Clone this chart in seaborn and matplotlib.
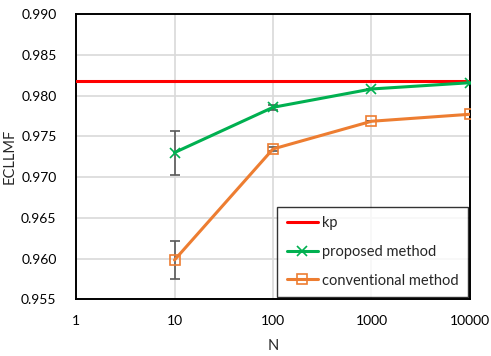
import pandas as pd
import matplotlib
matplotlib.use("Agg")
import matplotlib.pyplot as plt
import seaborn as sns

# values
n_values = [10, 100, 1000, 10000]
kp_x = [1, 10000]
kp_value = [0.9818, 0.9818]
proposed = [0.9730, 0.97855, 0.9808, 0.98157]
proposed_err = [0.0027, 0.0003, 0.0, 0.0]
conventional = [0.95982, 0.97344, 0.97684, 0.9777]
conventional_err = [0.00227, 0.0002, 0.0, 0.0]

sns.set_style("whitegrid")
plt.rcParams['font.family'] = ['Lato', 'DejaVu Sans']

fig = plt.figure(figsize=(4.91, 3.56), dpi=100)
ax = fig.add_axes([0.1548, 0.1593, 0.8024, 0.8014])

df_kp = pd.DataFrame({'N': kp_x, 'ECLLMF': kp_value})
df_prop = pd.DataFrame({'N': n_values, 'ECLLMF': proposed})
df_conv = pd.DataFrame({'N': n_values, 'ECLLMF': conventional})

# error bars
ax.errorbar(n_values, proposed, yerr=proposed_err, fmt='none', ecolor='#595959',
            elinewidth=1.2, capsize=3.5, capthick=1.2, zorder=2)
ax.errorbar(n_values, conventional, yerr=conventional_err, fmt='none', ecolor='#595959',
            elinewidth=1.2, capsize=3.5, capthick=1.2, zorder=2)

sns.lineplot(data=df_kp, x='N', y='ECLLMF', ax=ax, color='#FF0000', linewidth=2.2,
             label='kp', zorder=3)
sns.lineplot(data=df_prop, x='N', y='ECLLMF', ax=ax, color='#00B050', linewidth=2.2,
             marker='x', markersize=6.5, markeredgewidth=1.2, markeredgecolor='#00B050',
             label='proposed method', zorder=4)
sns.lineplot(data=df_conv, x='N', y='ECLLMF', ax=ax, color='#ED7D31', linewidth=2.2,
             marker='s', markersize=6.5, markerfacecolor='none', markeredgewidth=1.2,
             markeredgecolor='#ED7D31', label='conventional method', zorder=4)

ax.set_xscale('log')
ax.set_xlim(1, 10000)
ax.set_ylim(0.955, 0.990)
ax.set_xticks([1, 10, 100, 1000, 10000])
ax.set_xticklabels(['1', '10', '100', '1000', '10000'])
ax.set_yticks([0.955, 0.960, 0.965, 0.970, 0.975, 0.980, 0.985, 0.990])
ax.set_yticklabels(['0.955', '0.960', '0.965', '0.970', '0.975', '0.980', '0.985', '0.990'])
ax.minorticks_off()
ax.tick_params(axis='both', labelsize=10, colors='#000000', length=0)
ax.tick_params(axis='x', pad=11)
ax.tick_params(axis='y', pad=14)
ax.grid(True, color='#D9D9D9', linewidth=1.2)

for s in ax.spines.values():
    s.set_color('#000000')
    s.set_linewidth(1.4)

ax.set_xlabel('N', fontsize=10.5, labelpad=9)
ax.set_ylabel('ECLLMF', fontsize=10.5, labelpad=3)

leg = ax.legend(loc='lower right', bbox_to_anchor=(0.995, 0.008), frameon=True,
                fancybox=False, edgecolor='#000000', fontsize=10.5,
                handlelength=2.1, handletextpad=0.3, labelspacing=1.0,
                borderpad=0.65, borderaxespad=0.0)
leg.get_frame().set_linewidth(1.0)

fig.savefig('out.png', dpi=100)
